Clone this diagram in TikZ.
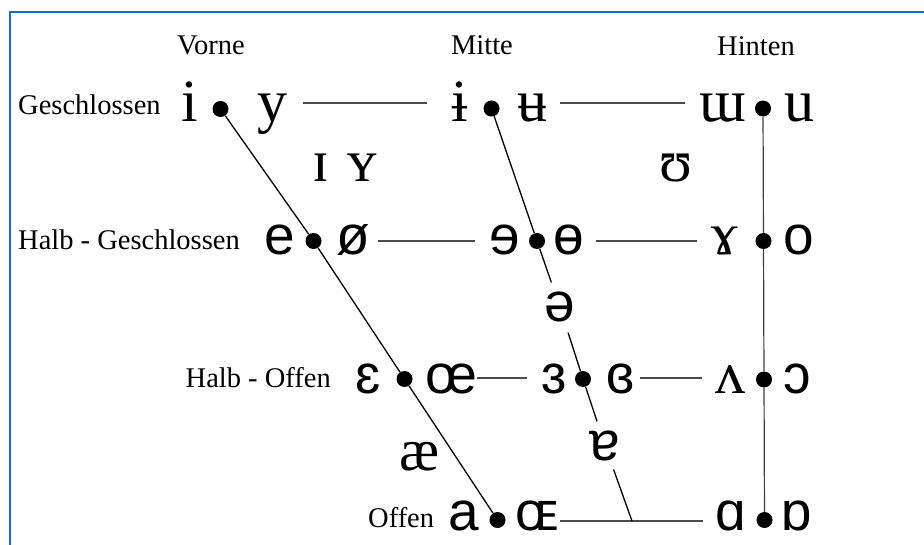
\documentclass[tikz,border=0pt]{standalone}
\usepackage{fontspec}
\setmainfont{Liberation Serif}
\newfontfamily\ipaserif{Liberation Serif}
\newfontfamily\ipasans{Liberation Sans}
\definecolor{framecol}{RGB}{16,114,204}
\tikzset{
  lbl/.style={font=\fontsize{28.5}{30}\selectfont, inner sep=0pt},
  vs/.style={font=\ipaserif\fontsize{60}{60}\selectfont, inner sep=0pt, anchor=base},
  vn/.style={font=\ipasans\fontsize{55}{55}\selectfont, inner sep=0pt, anchor=base},
  dotn/.style={circle, fill=black, inner sep=0pt, minimum size=16pt},
  hline/.style={line width=1.7pt, draw=black!70},
  sline/.style={line width=1.3pt, draw=black},
  vline/.style={line width=1.2pt, draw=black!75},
  frameline/.style={draw=framecol, line width=2pt}
}
\begin{document}
\begin{tikzpicture}[x=1pt,y=-1pt]
\useasboundingbox (0,0) rectangle (924,545);
\fill[white] (0,0) rectangle (924,545);
\draw[frameline] (9.5,545) -- (9.5,12.5) -- (924,12.5);

% column headings
\node[lbl, anchor=base] (vorne) at (211,55) {Vorne};
\node[lbl, anchor=base] (mitte) at (482,55) {Mitte};
\node[lbl, anchor=base] (hinten) at (756,56) {Hinten};

% row labels
\node[lbl, anchor=base west] (geschl) at (18,115) {Geschlossen};
\node[lbl, anchor=base west] (hgeschl) at (18,250) {Halb - Geschlossen};
\node[lbl, anchor=base east] (hoffen) at (331,388) {Halb - Offen};
\node[lbl, anchor=base west] (offen) at (368,527) {Offen};

% dots
\node[dotn] (d1f) at (220.5,109) {};
\node[dotn] (d1m) at (491.5,108.5) {};
\node[dotn] (d1b) at (763,108.5) {};
\node[dotn] (d2f) at (313.5,241) {};
\node[dotn] (d2m) at (537,241) {};
\node[dotn] (d2b) at (763.5,241) {};
\node[dotn] (d3f) at (404.5,379) {};
\node[dotn] (d3m) at (583,379) {};
\node[dotn] (d3b) at (764,379.5) {};
\node[dotn] (d4f) at (497.5,520) {};
\node[dotn] (d4b) at (764.5,520) {};

% row 1
\node[vs] (vi) at (189.5,122) {i};
\node[vs] (vy) at (272,122) {y};
\node[vs] (vbi) at (460,122) {ɨ};
\node[vs] (vbu) at (532,122) {ʉ};
\node[vs] (vmu) at (723,122) {ɯ};
\node[vs] (vu) at (799,122) {u};
% near-close
\node[vs] (vsi) at (321,182) {ɪ};
\node[vs] (vsy) at (362,182) {ʏ};
\node[vs] (vup) at (676,182) {ʊ};
% row 2
\node[vn] (ve) at (280,255) {e};
\node[vn] (voe) at (353,255) {ø};
\node[vn] (vre) at (505,255) {ɘ};
\node[vn] (vbo) at (569,255) {ɵ};
\node[vs] (vga) at (725,255) {ɤ};
\node[vn] (vo) at (799,255) {o};
% schwa
\node[vn, outer sep=10pt] (schwa) at (560,322) {ə};
% row 3
\node[vn] (veps) at (368,393) {ɛ};
\node[vn] (voel) at (451,393) {œ};
\node[vn] (vrep) at (554,393) {ɜ};
\node[vn] (vcre) at (620,393) {ɞ};
\node[vs] (vwed) at (730,393) {ʌ};
\node[vn] (voo) at (797,393) {ɔ};
% near-open
\node[vs] (vae) at (420,470) {æ};
\node[vn, outer sep=9pt] (turna) at (605,460) {ɐ};
% row 4
\node[vn] (va) at (464,530) {a};
\node[vn] (vOE) at (537,530) {ɶ};
\node[vn] (vaa) at (731,530) {ɑ};
\node[vn] (vta) at (797,530) {ɒ};

% horizontal line ends
\coordinate (h1a) at (303,103);  \coordinate (h1b) at (427,103);
\coordinate (h1c) at (560,103);  \coordinate (h1d) at (685,103);
\coordinate (h2a) at (378,241);  \coordinate (h2b) at (475,241);
\coordinate (h2c) at (596,241);  \coordinate (h2d) at (697,241);
\coordinate (h3a) at (477,378);  \coordinate (h3b) at (527,378);
\coordinate (h3c) at (640,378);  \coordinate (h3d) at (702,378);
\coordinate (h4a) at (560,521);  \coordinate (h4b) at (703,521);
\coordinate (j) at (632,521);

\draw[hline] (h1a) -- (h1b);
\draw[hline] (h1c) -- (h1d);
\draw[hline] (h2a) -- (h2b);
\draw[hline] (h2c) -- (h2d);
\draw[hline] (h3a) -- (h3b);
\draw[hline] (h3c) -- (h3d);
\draw[hline] (h4a) -- (h4b);

% slanted / vertical lines
\draw[sline] (d1f) -- (d2f) -- (d3f) -- (d4f);
\draw[sline] (d1m) -- (d2m) -- (schwa);
\draw[sline] (schwa) -- (d3m) -- (turna);
\draw[sline] (turna) -- (j);
\draw[vline] (d1b) -- (d2b) -- (d3b) -- (d4b);
\end{tikzpicture}
\end{document}
